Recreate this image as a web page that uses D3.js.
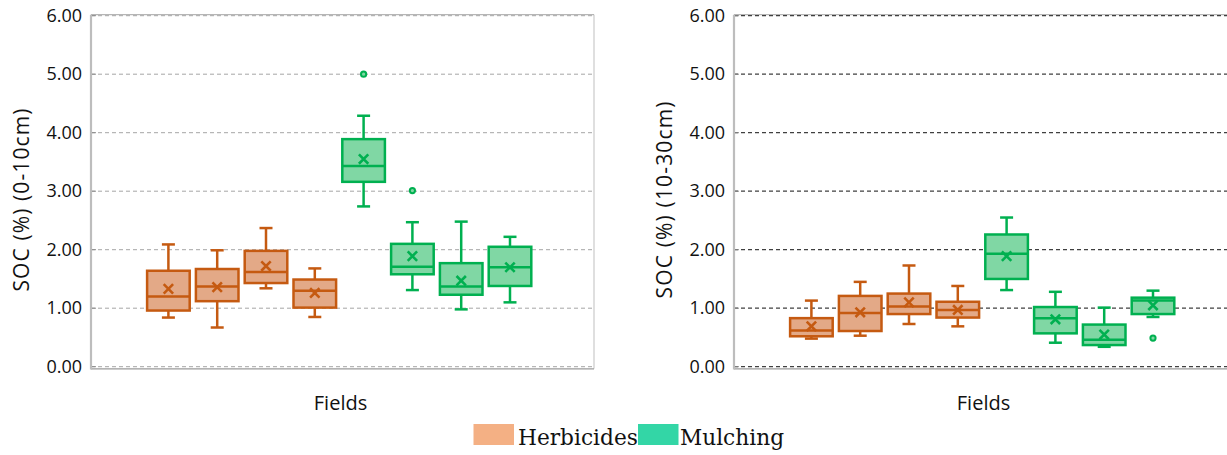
<!DOCTYPE html>
<html><head><meta charset="utf-8">
<script src="https://cdn.jsdelivr.net/npm/d3@7"></script>
<style>html,body{margin:0;padding:0;background:#fff;overflow:hidden}</style>
</head><body>
<svg id="chart" width="1227" height="455"></svg>
<script>
// ---- data ----
const fields = ["H1","H2","H3","H4","M1","M2","M3","M4"];
const groups = ["Herbicides","Herbicides","Herbicides","Herbicides","Mulching","Mulching","Mulching","Mulching"];
const yTicks = [0,1,2,3,4,5,6];
const legendLabels = ["Herbicides","Mulching"];

// 0-10cm
const min0  = [0.84,0.67,1.34,0.85,2.74,1.31,0.98,1.10];
const q1_0  = [0.96,1.12,1.43,1.01,3.16,1.58,1.23,1.38];
const med0  = [1.20,1.37,1.62,1.30,3.43,1.71,1.37,1.70];
const q3_0  = [1.64,1.67,1.98,1.49,3.89,2.10,1.77,2.05];
const max0  = [2.09,1.99,2.37,1.68,4.29,2.47,2.48,2.22];
const mean0 = [1.33,1.36,1.72,1.26,3.55,1.89,1.47,1.70];
const out0  = [[],[],[],[],[5.00],[3.01],[],[]];

// 10-30cm
const min1  = [0.48,0.53,0.73,0.69,1.31,0.41,0.34,0.85];
const q1_1  = [0.52,0.61,0.90,0.84,1.50,0.57,0.37,0.90];
const med1  = [0.62,0.92,1.03,0.97,1.93,0.83,0.46,1.13];
const q3_1  = [0.83,1.21,1.25,1.11,2.26,1.02,0.72,1.18];
const max1  = [1.13,1.45,1.73,1.38,2.55,1.28,1.01,1.30];
const mean1 = [0.69,0.93,1.10,0.97,1.89,0.81,0.55,1.05];
const out1  = [[],[],[],[],[],[],[],[0.49]];

// ---- styles ----
const stroke = {Herbicides:"#c55a11", Mulching:"#00b050"};
const fill   = {Herbicides:"#e3a987", Mulching:"#80d7a4"};
const legendFill = {Herbicides:"#f4b084", Mulching:"#33d6a6"};
const sans = "'Open Sans', 'DejaVu Sans', sans-serif";

const svg = d3.select("#chart");
const plotW = 503, plotTop = 15.7, plotBot = 366.7;
const y = d3.scaleLinear().domain([0,6]).range([plotBot, plotTop]);

function panel(x0, stats, title, titleLen, gridColor, gridWidth, frameRight) {
  const g = svg.append("g");
  const x = d3.scaleBand().domain(fields)
      .range([x0 + 53, x0 + 53 + 8*48.8]).paddingInner(0.078).paddingOuter(0.039);

  if (frameRight) {
    g.append("line").attr("x1", x0+plotW).attr("x2", x0+plotW).attr("y1", plotTop-1).attr("y2", plotBot+2)
      .attr("stroke","#bfbfbf").attr("stroke-width",1);
  }
  g.append("line").attr("x1", x0).attr("x2", x0+plotW).attr("y1", plotTop-1).attr("y2", plotTop-1)
    .attr("stroke","#a6a6a6").attr("stroke-width",1);

  // gridlines
  g.selectAll(".grid").data(yTicks).join("line")
    .attr("x1", x0).attr("x2", x0+plotW)
    .attr("y1", d=>y(d)).attr("y2", d=>y(d))
    .attr("stroke", gridColor).attr("stroke-width", gridWidth).attr("stroke-dasharray","4,3");
  g.append("line").attr("x1", x0).attr("x2", x0+plotW).attr("y1", plotBot+2.2).attr("y2", plotBot+2.2)
    .attr("stroke","#9a9a9a").attr("stroke-width",1.3);

  // y axis
  const ax = g.append("g").attr("transform", `translate(${x0},0)`)
    .call(d3.axisLeft(y).tickValues(yTicks).tickFormat(d3.format(".2f")).tickSize(0).tickPadding(9));
  ax.select(".domain").remove();
  ax.selectAll("text").attr("font-family",sans).attr("font-size",18).attr("fill","#111");
  g.append("line").attr("x1", x0).attr("x2", x0).attr("y1", plotTop-1).attr("y2", plotBot+2.8)
    .attr("stroke","#bdbdbd").attr("stroke-width",2.2);
  g.selectAll(".ytk").data(yTicks).join("line")
    .attr("x1", x0+1).attr("x2", x0+5).attr("y1", d=>y(d)).attr("y2", d=>y(d))
    .attr("stroke","#8a8a8a").attr("stroke-width",1);

  // axis titles
  g.append("text").attr("transform", `translate(${x0-62},${200}) rotate(-90)`)
    .attr("text-anchor","middle").attr("font-family",sans)
    .attr("font-size",21).attr("fill","#111")
    .attr("textLength", titleLen).attr("lengthAdjust","spacing").text(title);
  g.append("text").attr("x", x0 + plotW/2 - 2).attr("y", 410)
    .attr("text-anchor","middle").attr("font-family",sans)
    .attr("font-size",20).attr("fill","#111").text("Fields");

  // boxes
  const bw = x.bandwidth();
  fields.forEach((f,i) => {
    const grp = groups[i];
    const cx = x(f) + bw/2;
    const s = stroke[grp];
    const b = g.append("g");
    b.append("line").attr("x1",cx).attr("x2",cx).attr("y1",y(stats.max[i])).attr("y2",y(stats.q3[i]))
      .attr("stroke",s).attr("stroke-width",2.5);
    b.append("line").attr("x1",cx).attr("x2",cx).attr("y1",y(stats.q1[i])).attr("y2",y(stats.min[i]))
      .attr("stroke",s).attr("stroke-width",2.5);
    [stats.max[i], stats.min[i]].forEach(v => {
      b.append("line").attr("x1",cx-6.5).attr("x2",cx+6.5).attr("y1",y(v)).attr("y2",y(v))
        .attr("stroke",s).attr("stroke-width",2.5);
    });
    b.append("rect").attr("x", x(f)+1.2).attr("width", bw-2.4)
      .attr("y", y(stats.q3[i])).attr("height", y(stats.q1[i]) - y(stats.q3[i]))
      .attr("fill", fill[grp]).attr("stroke", s).attr("stroke-width",2.5);
    b.append("line").attr("x1",x(f)+1.2).attr("x2",x(f)+bw-1.2).attr("y1",y(stats.med[i])).attr("y2",y(stats.med[i]))
      .attr("stroke",s).attr("stroke-width",2.5);
    const my = y(stats.mean[i]), h = 4.7;
    b.append("path").attr("d", `M${cx-h},${my-h}L${cx+h},${my+h}M${cx-h},${my+h}L${cx+h},${my-h}`)
      .attr("stroke",s).attr("stroke-width",2.6).attr("fill","none");
    stats.out[i].forEach(v => {
      b.append("circle").attr("cx",cx).attr("cy",y(v)).attr("r",2.6)
        .attr("fill",fill[grp]).attr("stroke",s).attr("stroke-width",2);
    });
  });
}

panel(91,  {min:min0,q1:q1_0,med:med0,q3:q3_0,max:max0,mean:mean0,out:out0}, "SOC (%) (0-10cm)", 183, "#a6a6a6", 1, true);
panel(734, {min:min1,q1:q1_1,med:med1,q3:q3_1,max:max1,mean:mean1,out:out1}, "SOC (%) (10-30cm)", 197, "#404040", 1.3, false);

// legend
const lg = svg.append("g");
const lx = [473.5, 638];
const tx = [518, 680];
legendLabels.forEach((l,i) => {
  lg.append("rect").attr("x", lx[i]).attr("y", 424).attr("width", 40.5).attr("height", 21).attr("fill", legendFill[l]);
  lg.append("text").attr("x", tx[i]).attr("y", 445).attr("font-family","'DejaVu Serif', 'Liberation Serif', serif")
    .attr("font-size", 21.7).attr("fill","#111").text(l);
});
</script>
</body></html>
